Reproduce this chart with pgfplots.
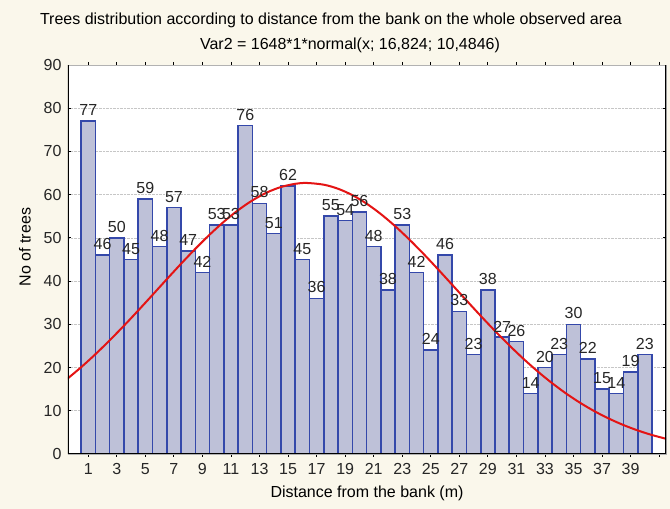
\documentclass[border=0pt]{standalone}
\usepackage{fontspec}
\setmainfont{Liberation Sans}
\usepackage{pgfplots}
\pgfplotsset{compat=1.18}
\definecolor{cream}{RGB}{250,247,235}
\definecolor{baredge}{RGB}{52,72,170}
\definecolor{barfill}{RGB}{190,193,216}
\definecolor{curvered}{RGB}{228,20,20}
\pgfplotstableread{
x y
1 77
2 46
3 50
4 45
5 59
6 48
7 57
8 47
9 42
10 53
11 53
12 76
13 58
14 51
15 62
16 45
17 36
18 55
19 54
20 56
21 48
22 38
23 53
24 42
25 24
26 46
27 33
28 23
29 38
30 27
31 26
32 14
33 20
34 23
35 30
36 22
37 15
38 14
39 19
40 23
}\bars
\newcommand{\lf}{\fontsize{16bp}{18bp}\selectfont}
\begin{document}
\begin{tikzpicture}
\fill[cream] (0,0) rectangle (670bp,509bp);
\useasboundingbox (0,0) rectangle (670bp,509bp);
\node[font=\lf] at (331bp,489bp) {Trees distribution according to distance from the bank on the whole observed area};
\node[font=\lf] at (350bp,464bp) {Var2 = 1648*1*normal(x; 16,824; 10,4846)};
\node[font=\lf, rotate=90] at (25bp,262bp) {No of trees};
\begin{axis}[
  at={(68bp,55bp)}, anchor=south west,
  scale only axis, width=598bp, height=389bp,
  xmin=-0.42, xmax=41.48, ymin=0, ymax=90,
  ytick={0,10,...,90},
  xtick={1,3,...,41},
  xticklabels={1,3,5,7,9,11,13,15,17,19,21,23,25,27,29,31,33,35,37,39,{}},
  tick align=inside,
  major tick length=3bp,
  tick style={black, line width=0.8bp},
  axis line style={gray!60, line width=0.6bp},
  axis background/.style={fill=white},
  ymajorgrids,
  major grid style={densely dotted, gray!45, line width=0.6bp},
  tick label style={font=\lf, text=black!85},
  /pgf/number format/assume math mode=true,
  xticklabel style={yshift=-3bp},
  yticklabel style={xshift=-3bp},
  xlabel={Distance from the bank (m)},
  xlabel style={font=\lf, yshift=-4bp},
  ybar, bar width=1,
  clip=true,
]
\addplot[draw=baredge, line width=1.6bp, fill=barfill,
  nodes near coords,
  every node near coord/.append style={font=\lf, text=black!85, inner sep=1.5bp, yshift=3bp}] table[x=x,y=y] {\bars};
\addplot[sharp plot, smooth, draw=curvered, line width=2bp, no marks] coordinates {
(-0.5,17.31) (0.5,20.08) (1.5,23.08) (2.5,26.30) (3.5,29.68) (4.5,33.20)
(5.5,36.80) (6.5,40.43) (7.5,44.01) (8.5,47.47) (9.5,50.74) (10.5,53.74)
(11.5,56.41) (12.5,58.67) (13.5,60.48) (14.5,61.77) (15.5,62.51) (16.3,62.71)
(17.5,62.31) (18.5,61.37) (19.5,59.90) (20.5,57.93) (21.5,55.51) (22.5,52.72)
(23.5,49.61) (24.5,46.27) (25.5,42.76) (26.5,39.15) (27.5,35.53) (28.5,31.95)
(29.5,28.47) (30.5,25.14) (31.5,22.00) (32.5,19.07) (33.5,16.39) (34.5,13.95)
(35.5,11.77) (36.5,9.84) (37.5,8.16) (38.5,6.70) (39.5,5.45) (40.5,4.39) (41.5,3.51)
};
\draw[black, line width=1.8bp] (rel axis cs:0,1) -- (rel axis cs:0,0) -- (rel axis cs:1,0) -- (rel axis cs:1,1);
\end{axis}
\end{tikzpicture}
\end{document}
